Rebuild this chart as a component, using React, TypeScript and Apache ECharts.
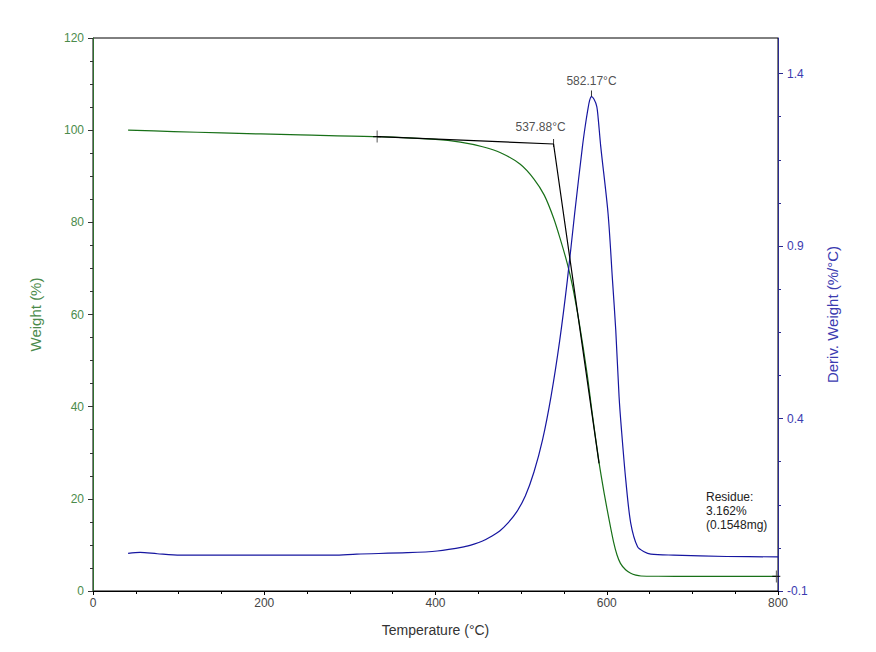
import React, { useEffect, useRef } from "react";
import * as echarts from "echarts";

// ---- Data ----
const TGA_T = [41, 94, 150, 242, 332, 400, 429, 455, 476, 499, 515, 527, 538, 546, 554, 560, 568, 577, 583, 591, 597, 603, 608, 612, 616, 622, 628, 634, 640, 660, 700, 750, 798];
const TGA_W = [100.0, 99.7, 99.4, 98.96, 98.6, 98.0, 97.4, 96.4, 95.1, 92.6, 89.4, 85.9, 80.9, 76.2, 71.0, 66.2, 58.0, 47.2, 38.6, 27.9, 21.2, 15.2, 10.6, 7.8, 6.0, 4.6, 3.84, 3.45, 3.26, 3.2, 3.18, 3.17, 3.162];

const DTG_T = [41, 55, 75, 102, 200, 281, 308, 367, 402, 433, 445, 455, 465, 475, 485, 495, 505, 515, 525, 535, 545, 554, 562.6, 571.6, 575, 577.8, 580, 582.17, 585, 588.3, 590, 593, 601.5, 606.7, 610.5, 614.4, 617.2, 622.2, 628, 636, 643.6, 651.5, 678, 740, 800];
const DTG_V = [0.009, 0.012, 0.008, 0.004, 0.004, 0.004, 0.007, 0.011, 0.016, 0.028, 0.036, 0.045, 0.058, 0.074, 0.098, 0.130, 0.176, 0.245, 0.338, 0.465, 0.625, 0.801, 0.996, 1.188, 1.25, 1.294, 1.322, 1.333, 1.326, 1.305, 1.27, 1.188, 0.995, 0.801, 0.657, 0.463, 0.367, 0.222, 0.097, 0.028, 0.014, 0.007, 0.004, 0.0, -0.001];

const TANGENT_T = [331.8, 537.88, 591];
const TANGENT_W = [98.6, 97.0, 27.7];

const CROSS_T = [331.8, 798];
const CROSS_W = [98.6, 3.162];

const ONSET_T = 537.88;
const ONSET_W = 97.0;
const PEAK_T = 582.17;
const PEAK_V = 1.333;

const RIGHT_TICKS = [-0.1, 0.4, 0.9, 1.4];
const RIGHT_MINOR = [-0.1, 0.025, 0.15, 0.275, 0.4, 0.525, 0.65, 0.775, 0.9, 1.025, 1.15, 1.275, 1.4];
const RESIDUE_TEXT = "Residue:\n3.162%\n(0.1548mg)";

const FONT = "'Liberation Sans', Arial, sans-serif";
const GREEN = "#187018";
const GREEN_LABEL = "#4b8b4b";
const BLUE = "#1616a0";
const BLUE_LABEL = "#3b3bb0";

export default function App() {
  const ref = useRef<HTMLDivElement>(null);
  useEffect(() => {
    if (!ref.current) return;
    const chart = echarts.init(ref.current, null, { renderer: "svg" });
    const tga = TGA_T.map((t, i) => [t, TGA_W[i]]);
    const dtg = DTG_T.map((t, i) => [t, DTG_V[i]]);
    const tangent = TANGENT_T.map((t, i) => [t, TANGENT_W[i]]);
    const crosses = CROSS_T.map((t, i) => [t, CROSS_W[i]]);
    const rightMax = -0.1 + 553 / 345;
    chart.setOption({
      animation: false,
      backgroundColor: "#fff",
      textStyle: { fontFamily: FONT },
      grid: { left: 93, right: 98, top: 38, bottom: 61, show: true, borderColor: "#000", borderWidth: 1, backgroundColor: "transparent" },
      xAxis: {
        type: "value", min: 0, max: 800, interval: 200,
        name: "Temperature (°C)", nameLocation: "middle", nameGap: 32,
        nameTextStyle: { fontSize: 14, color: "#333", fontFamily: FONT },
        axisLine: { show: true, lineStyle: { color: "#000", width: 1 } },
        axisTick: { show: true, length: 4, lineStyle: { color: "#000" } },
        minorTick: { show: true, splitNumber: 4, length: 3, lineStyle: { color: "#000" } },
        splitLine: { show: false },
        axisLabel: { color: "#444", fontSize: 12, margin: 6, fontFamily: FONT },
      },
      yAxis: [
        {
          type: "value", min: 0, max: 120, interval: 20, position: "left",
          name: "Weight (%)", nameLocation: "middle", nameGap: 50, nameRotate: 90,
          nameTextStyle: { fontSize: 15, color: GREEN_LABEL, fontFamily: FONT },
          axisLine: { show: true, lineStyle: { color: "#2e6e2e", width: 1 } },
          axisTick: { show: true, length: 5, lineStyle: { color: "#333" } },
          minorTick: { show: true, splitNumber: 4, length: 3, lineStyle: { color: "#333" } },
          splitLine: { show: false },
          axisLabel: { color: GREEN_LABEL, fontSize: 12, margin: 9, fontFamily: FONT },
        },
        {
          type: "value", min: -0.1, max: rightMax, position: "right",
          name: "Deriv. Weight (%/°C)", nameLocation: "middle", nameGap: 47, nameRotate: 90,
          nameTextStyle: { fontSize: 15, color: BLUE_LABEL, fontFamily: FONT },
          axisLine: { show: true, lineStyle: { color: "#2a2a90", width: 1 } },
          axisTick: { show: true, length: 5, customValues: RIGHT_TICKS, lineStyle: { color: "#2a2a90" } },
          splitLine: { show: false },
          axisLabel: { color: BLUE_LABEL, fontSize: 12, margin: 9, fontFamily: FONT, customValues: RIGHT_TICKS, formatter: (v: number) => v.toFixed(1) },
        },
        {
          type: "value", min: -0.1, max: rightMax, position: "right",
          axisLine: { show: false },
          axisTick: { show: true, length: 3, customValues: RIGHT_MINOR, lineStyle: { color: "#2a2a90" } },
          splitLine: { show: false },
          axisLabel: { show: false },
        },
      ],
      series: [
        {
          type: "line", name: "Weight", yAxisIndex: 0, data: tga, showSymbol: false, smooth: 0.3,
          lineStyle: { color: GREEN, width: 1.2 }, z: 2,
        },
        {
          type: "line", name: "Deriv", yAxisIndex: 1, data: dtg, showSymbol: false, smooth: 0.3,
          lineStyle: { color: BLUE, width: 1.2 }, z: 2,
        },
        {
          type: "line", name: "Tangent", yAxisIndex: 0, data: tangent, showSymbol: false,
          lineStyle: { color: "#000", width: 1.2 }, z: 3,
        },
        {
          type: "scatter", yAxisIndex: 0, data: crosses,
          symbol: "path://M5,0 L5,12 M0,6 L10,6", symbolSize: [8, 12],
          itemStyle: { color: "none", borderColor: "#000", borderWidth: 1 }, z: 4,
        },
        {
          type: "scatter", yAxisIndex: 0, data: [[ONSET_T, ONSET_W]],
          symbol: "rect", symbolSize: [1, 8], symbolOffset: [0, -1],
          itemStyle: { color: "#000" }, z: 4,
          label: { show: true, formatter: "537.88°C", position: "top", distance: 6, offset: [-13, 0], fontSize: 12, color: "#222", fontFamily: FONT },
        },
        {
          type: "scatter", yAxisIndex: 1, data: [[PEAK_T, PEAK_V]],
          symbol: "rect", symbolSize: [1, 6], symbolOffset: [0, -3],
          itemStyle: { color: "#000" }, z: 4,
          label: { show: true, formatter: "582.17°C", position: "top", distance: 4, fontSize: 12, color: "#222", fontFamily: FONT },
        },
      ],
      graphic: [
        {
          type: "text", left: 706, top: 490,
          style: { text: RESIDUE_TEXT, fontSize: 12, lineHeight: 14, fill: "#222", fontFamily: FONT },
        },
      ],
    });
    return () => chart.dispose();
  }, []);
  return <div ref={ref} style={{ position: "fixed", left: 0, top: 0, width: 876, height: 652 }} />;
}
